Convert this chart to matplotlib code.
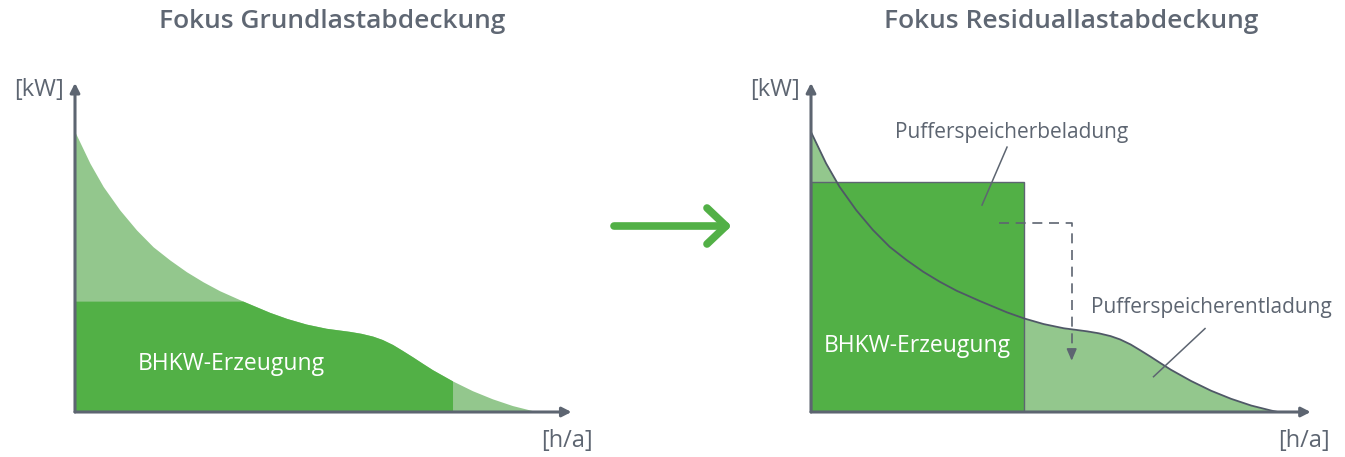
import matplotlib.pyplot as plt
import numpy as np

# Jahresdauerlinie, hours per year vs. load in kW
hours = np.array([0, 283, 533, 848, 1162, 1475, 1790, 2104, 2417, 2732, 3171,
                  3674, 4000, 4365, 4742, 5181, 5400, 5620, 5800, 5997, 6180,
                  6374, 6560, 6750, 7127, 7504, 7881, 8258, 8635, 8760])
load_kw = np.array([100, 88.8, 80.5, 72.1, 65.0, 59.0, 54.3, 50.1, 46.5, 43.3, 39.6,
                    35.6, 33.4, 31.4, 29.9, 28.8, 28.1, 27.1, 25.9, 24.1, 22.0,
                    19.7, 17.4, 15.1, 11.1, 7.6, 4.7, 2.3, 0.5, 0])

# left: Grundlast
base_kw = 39.6
base_end_h = 7127
# right: Residuallast with buffer storage
chp_kw = 82.3
chp_end_h = 4000
shift_path_h = [3520, 4890, 4890]
shift_path_kw = [67.5, 67.5, 19.3]

titles = ['Fokus Grundlastabdeckung', 'Fokus Residuallastabdeckung']
chp_label = 'BHKW-Erzeugung'

dark_green = '#52b046'
light_green = '#93c78d'
gray = '#5d6571'
title_gray = '#5f6773'

plt.rcParams['font.family'] = ['Open Sans', 'DejaVu Sans']

W, H = 1345, 457
fig = plt.figure(figsize=(W / 100, H / 100), dpi=100)


def px_axes(x0, y0, x1, y1):
    # axes from pixel box (origin bottom-left at x0,y0 in image coords)
    return fig.add_axes([x0 / W, (H - y0) / H, (x1 - x0) / W, (y0 - y1) / H])


def draw_axes(ax, xtip, ytip, ylab_x, xlab_x, xlab_y):
    ax.set_xlim(0, 8760)
    ax.set_ylim(0, 100)
    ax.axis('off')
    arrow = dict(arrowstyle='-|>,head_length=0.55,head_width=0.28', color=gray,
                 lw=2.2, shrinkA=0, shrinkB=0)
    ax.annotate('', xy=(xtip, 0), xytext=(0, 0), xycoords='axes fraction',
                arrowprops=arrow, annotation_clip=False)
    ax.annotate('', xy=(0, ytip), xytext=(0, 0), xycoords='axes fraction',
                arrowprops=arrow, annotation_clip=False)
    ax.text(ylab_x, ytip - 0.025, '[kW]', transform=ax.transAxes, ha='right',
            va='center', fontsize=17, color=gray)
    ax.text(xlab_x, xlab_y, '[h/a]', transform=ax.transAxes, ha='center',
            va='center', fontsize=17, color=gray)


# ---- left panel
ax1 = px_axes(75, 412, 539, 132)
ax1.fill_between(hours, load_kw, color=light_green, lw=0)
ax1.fill_between(hours, np.minimum(load_kw, base_kw), where=hours <= base_end_h,
                 color=dark_green, lw=0)
ax1.text(2954, 17.2, chp_label, ha='center', va='center', color='white', fontsize=16.5)
draw_axes(ax1, 1.07, 1.175, -0.024, 1.06, -0.104)

# ---- right panel
ax2 = px_axes(811, 412, 1278, 132)
ax2.fill_between(hours, load_kw, color=light_green, lw=0)
ax2.bar(0, chp_kw, width=chp_end_h, align='edge', color=dark_green,
        edgecolor=gray, lw=1.0)
ax2.plot(hours, load_kw, color='#4f5866', lw=1.3)
ax2.plot(shift_path_h, shift_path_kw, color=gray, lw=1.2, ls=(0, (6, 4)))
ax2.annotate('', xy=(shift_path_h[-1], shift_path_kw[-1] - 1),
             xytext=(shift_path_h[-1], shift_path_kw[-1] + 3),
             arrowprops=dict(arrowstyle='-|>,head_length=0.7,head_width=0.3',
                             color=gray, lw=1.2, shrinkA=0, shrinkB=0))
ax2.text(1988, 23.6, chp_label, ha='center', va='center', color='white', fontsize=16.5)
ax2.text(3770, 100, 'Pufferspeicherbeladung', ha='center', va='center',
         color=gray, fontsize=15)
ax2.plot([3677, 3208], [94.6, 73.9], color=gray, lw=1.1)
ax2.text(7503, 37.5, 'Pufferspeicherentladung', ha='center', va='center',
         color=gray, fontsize=15)
ax2.plot([7391, 6425], [29.8, 12.6], color=gray, lw=1.1)
draw_axes(ax2, 1.07, 1.175, -0.024, 1.056, -0.104)

# ---- titles
fig.text(332 / W, 1 - 22 / H, titles[0], ha='center', va='center',
         fontsize=19, color=title_gray, fontweight='semibold')
fig.text(1071 / W, 1 - 22 / H, titles[1], ha='center', va='center',
         fontsize=19, color=title_gray, fontweight='semibold')

# ---- green transition arrow
arrow_kw = dict(color=dark_green, lw=5.5, solid_capstyle='round',
                solid_joinstyle='round', transform=fig.transFigure)
fig.add_artist(plt.Line2D([614 / W, 726 / W], [1 - 226 / H, 1 - 226 / H], **arrow_kw))
fig.add_artist(plt.Line2D([707 / W, 726 / W, 707 / W],
                          [1 - 208 / H, 1 - 226 / H, 1 - 244 / H], **arrow_kw))

fig.savefig('out.png', dpi=100)
